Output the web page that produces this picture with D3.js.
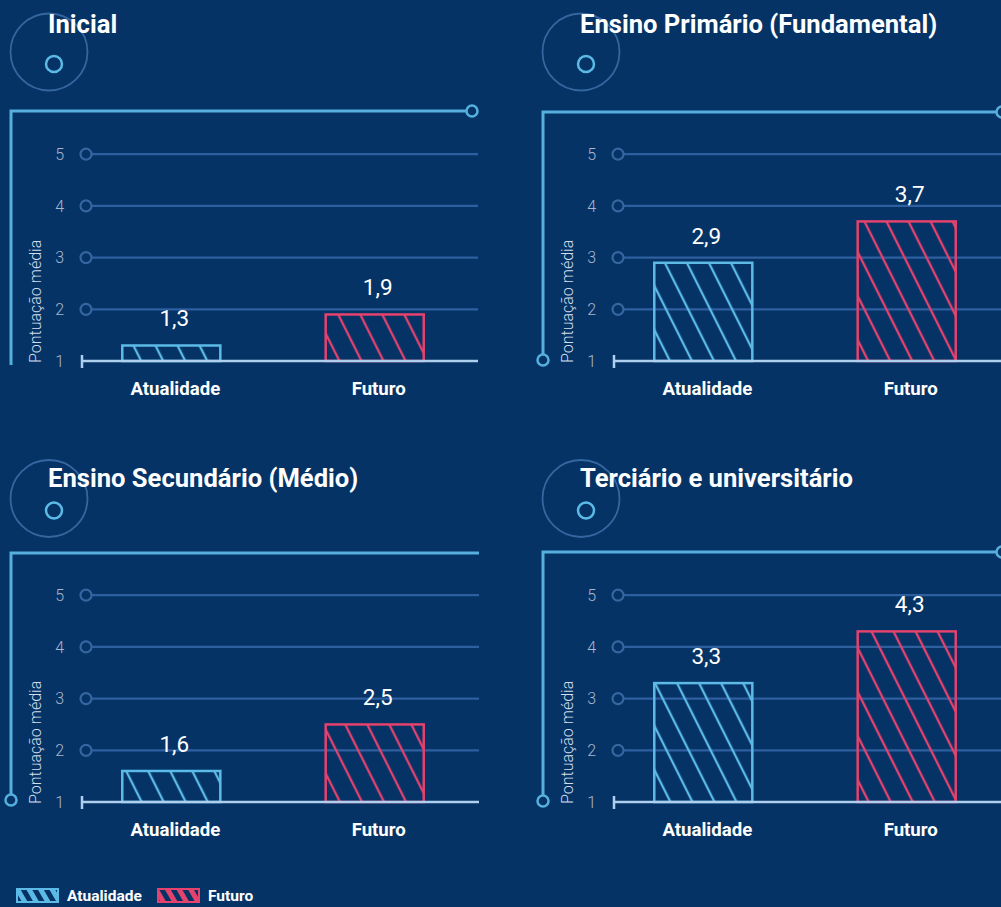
<!DOCTYPE html>
<html>
<head>
<meta charset="utf-8">
<script src="https://cdn.jsdelivr.net/npm/d3@7"></script>
<style>
  html, body { margin: 0; padding: 0; background: #053366; }
  svg { display: block; font-family: Roboto, "Open Sans", sans-serif; }
</style>
</head>
<body>
<div id="container"></div>
<script>
// data
const panelTitles = [
  "Inicial",
  "Ensino Primário (Fundamental)",
  "Ensino Secundário (Médio)",
  "Terciário e universitário"
];
const categories = ["Atualidade", "Futuro"];
const atualidade = [1.3, 2.9, 1.6, 3.3];
const futuro = [1.9, 3.7, 2.5, 4.3];
const yTicks = [1, 2, 3, 4, 5];
const gridTicks = [2, 3, 4, 5];
const yLabel = "Pontuação média";
const legendLabels = ["Atualidade", "Futuro"];

const colors = {
  bg: "#053366",
  cyan: "#5cbbe6",
  pink: "#e5426d",
  frame: "#55b0de",
  grid: "#2e5f9f",
  base: "#aed0ee",
  tick: "#a8b6cc",
  ring: "#35669f"
};
const seriesColor = [colors.cyan, colors.pink];

// layout of each panel (offsets, frame decorations)
const layout = [
  { dx: 0,   dy: 0,   hy: 0,     ty: 0,   frameTop: 111, rightEnd: 472,  rightDot: true,  bottom: 365, bottomDot: false, gridEnd: 478 },
  { dx: 532, dy: 0,   hy: 0,     ty: 0,   frameTop: 112, rightEnd: 1002, rightDot: true,  bottom: 360, bottomDot: true,  gridEnd: 1001 },
  { dx: 0,   dy: 441, hy: 446.5, ty: 454, frameTop: 553, rightEnd: 479,  rightDot: false, bottom: 800, bottomDot: true,  gridEnd: 479 },
  { dx: 532, dy: 441, hy: 446.5, ty: 454, frameTop: 552, rightEnd: 1002, rightDot: true,  bottom: 801, bottomDot: true,  gridEnd: 1001 }
];

const width = 1001, height = 907;
const svg = d3.select("#container").append("svg")
  .attr("width", width).attr("height", height);

svg.append("rect").attr("width", width).attr("height", height).attr("fill", colors.bg);

// hatch patterns
const defs = svg.append("defs");
seriesColor.forEach((c, i) => {
  const p = defs.append("pattern")
    .attr("id", "hatch" + i)
    .attr("patternUnits", "userSpaceOnUse")
    .attr("width", 19.7).attr("height", 19.7)
    .attr("patternTransform", "rotate(-26.6)");
  p.append("line").attr("x1", 4).attr("x2", 4).attr("y1", 0).attr("y2", 19.7)
    .attr("stroke", c).attr("stroke-width", 2.3);

  const q = defs.append("pattern")
    .attr("id", "legendHatch" + i)
    .attr("patternUnits", "userSpaceOnUse")
    .attr("width", 10).attr("height", 10)
    .attr("patternTransform", "rotate(-30)");
  q.append("rect").attr("width", 10).attr("height", 10).attr("fill", c);
  q.append("rect").attr("x", 3).attr("width", 5).attr("height", 10).attr("fill", colors.bg);
});

panelTitles.forEach((title, i) => {
  const L = layout[i];
  const g = svg.append("g");

  // header decoration
  g.append("circle").attr("cx", 49 + L.dx).attr("cy", 52 + L.hy).attr("r", 38.5)
    .attr("fill", "none").attr("stroke", colors.ring).attr("stroke-width", 1.8);
  g.append("circle").attr("cx", 54 + L.dx).attr("cy", 64 + L.hy).attr("r", 8)
    .attr("fill", "none").attr("stroke", colors.cyan).attr("stroke-width", 2.5);
  g.append("text").attr("x", 48 + L.dx).attr("y", 33 + L.ty)
    .attr("fill", "#fff").attr("font-size", 25.6).attr("font-weight", 700)
    .text(title);

  // frame
  const fx = 11 + L.dx;
  g.append("path")
    .attr("d", `M${fx},${L.bottom}V${L.frameTop}H${L.rightEnd - (L.rightDot ? 5.5 : 0)}`)
    .attr("fill", "none").attr("stroke", colors.frame).attr("stroke-width", 3);
  if (L.rightDot) {
    g.append("circle").attr("cx", L.rightEnd).attr("cy", L.frameTop).attr("r", 5.5)
      .attr("fill", colors.bg).attr("stroke", colors.frame).attr("stroke-width", 2.5);
  }
  if (L.bottomDot) {
    g.append("circle").attr("cx", fx).attr("cy", L.bottom).attr("r", 5.5)
      .attr("fill", colors.bg).attr("stroke", colors.frame).attr("stroke-width", 2.5);
  }

  // scales
  const y = d3.scaleLinear().domain([1, 5]).range([361 + L.dy, 154.2 + L.dy]);
  const x = d3.scaleBand().domain(categories)
    .range([82 + L.dx, 464 + L.dx]).paddingInner(0.518).paddingOuter(0.198);

  // gridlines
  const gx = 86 + L.dx;
  g.selectAll(".grid").data(gridTicks).join("line")
    .attr("x1", gx + 6).attr("x2", L.gridEnd)
    .attr("y1", d => y(d)).attr("y2", d => y(d))
    .attr("stroke", colors.grid).attr("stroke-width", 2.2);
  g.selectAll(".gdot").data(gridTicks).join("circle")
    .attr("cx", gx).attr("cy", d => y(d)).attr("r", 5.5)
    .attr("fill", "none").attr("stroke", colors.ring).attr("stroke-width", 2.2);

  // y tick labels
  const yAxis = g.append("g").attr("transform", `translate(${gx},0)`)
    .call(d3.axisLeft(y).tickValues(yTicks).tickSize(0).tickPadding(22).tickFormat(d3.format("d")));
  yAxis.select(".domain").remove();
  yAxis.selectAll("text").attr("fill", colors.tick).attr("font-size", 16)
    .attr("font-weight", 300).attr("font-family", "Roboto, sans-serif");

  // y label
  g.append("text")
    .attr("transform", `translate(${41 + L.dx},${363 + L.dy}) rotate(-90)`)
    .attr("fill", "#d3deec").attr("font-size", 16).attr("font-weight", 300)
    .text(yLabel);

  // bars
  const vals = [atualidade[i], futuro[i]];
  g.selectAll(".bar").data(vals).join("rect")
    .attr("x", (d, j) => x(categories[j]))
    .attr("width", x.bandwidth())
    .attr("y", d => y(d))
    .attr("height", d => y(1) - y(d))
    .attr("fill", (d, j) => `url(#hatch${j})`)
    .attr("stroke", (d, j) => seriesColor[j])
    .attr("stroke-width", 2.5);

  g.selectAll(".val").data(vals).join("text")
    .attr("x", (d, j) => x(categories[j]) + x.bandwidth() / 2 + 3)
    .attr("y", d => y(d) - 19)
    .attr("text-anchor", "middle").attr("fill", "#fff")
    .attr("font-size", 22.5).attr("font-weight", 400)
    .text(d => d3.format(".1f")(d).replace(".", ","));

  // baseline
  g.append("line").attr("x1", 82 + L.dx).attr("x2", L.gridEnd)
    .attr("y1", y(1)).attr("y2", y(1))
    .attr("stroke", colors.base).attr("stroke-width", 2.5);
  g.append("line").attr("x1", 82 + L.dx).attr("x2", 82 + L.dx)
    .attr("y1", y(1) - 6).attr("y2", y(1) + 7)
    .attr("stroke", colors.base).attr("stroke-width", 2.5);

  // category labels
  const xAxis = g.append("g").attr("transform", `translate(0,${y(1)})`)
    .call(d3.axisBottom(x).tickSize(0).tickPadding(21));
  xAxis.select(".domain").remove();
  xAxis.selectAll("text").attr("fill", "#fff").attr("font-size", 18.6)
    .attr("font-weight", 700).attr("font-family", "Roboto, sans-serif")
    .attr("dx", 4);
});

// legend
const legendX = [17, 158];
const lg = svg.append("g");
legendLabels.forEach((lab, j) => {
  lg.append("rect").attr("x", legendX[j]).attr("y", 889).attr("width", 41).attr("height", 13)
    .attr("fill", `url(#legendHatch${j})`).attr("stroke", seriesColor[j]).attr("stroke-width", 2);
  lg.append("text").attr("x", legendX[j] + 50).attr("y", 901)
    .attr("fill", "#fff").attr("font-size", 15.5).attr("font-weight", 700)
    .text(lab);
});
</script>
</body>
</html>
